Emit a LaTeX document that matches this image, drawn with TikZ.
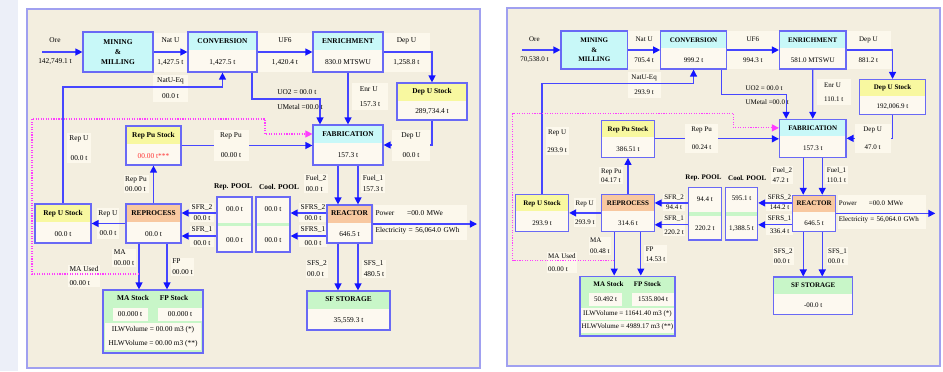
\documentclass[tikz,border=0pt]{standalone}
\usepackage{fontspec}
\setmainfont{Liberation Serif}
\usetikzlibrary{arrows.meta}

\definecolor{sidebg}{RGB}{236,239,248}
\definecolor{panelbg}{RGB}{243,238,223}
\definecolor{frameline}{RGB}{160,160,240}
\definecolor{boxline}{RGB}{105,105,245}
\definecolor{flowline}{RGB}{70,70,255}
\definecolor{tipblue}{RGB}{20,20,255}
\definecolor{cream}{RGB}{253,249,240}
\definecolor{lblbg}{RGB}{252,248,236}
\definecolor{hcyan}{RGB}{200,248,248}
\definecolor{hyellow}{RGB}{248,248,160}
\definecolor{hpeach}{RGB}{248,200,160}
\definecolor{hgreen}{RGB}{200,246,200}
\definecolor{dotpink}{RGB}{255,60,255}
\definecolor{valred}{RGB}{255,50,50}

% one fuel cycle panel, values come from \v... macros
\newcommand\fcpanel{%
% flow labels (lines go over them)
\node[lbl, minimum width=1.75cm, minimum height=1.95cm] (lNat) at (170.5,52) {Nat U\\[19pt]\vNatU};
\node[lbl, minimum width=1.75cm, minimum height=1.35cm] (lNatEq) at (170.5,88.5) {NatU-Eq\\[11pt]\vNatEq};
\node[lbl, minimum width=2.8cm, minimum height=1.95cm] (lUF) at (285,52) {UF6\\[19pt]\vUF};
\node[lbl, minimum width=2.35cm, minimum height=1.95cm] (lDep) at (406.5,52) {Dep U\\[19pt]\vDepU};
\node[lbll, minimum width=1.8cm, minimum height=1.35cm] (lEnrU) at (370,96.5) {Enr U\\[9pt]\vEnrU};
\node[lbl, minimum width=1.2cm, minimum height=1.5cm] (lRepUV) at (79,148) {Rep U\\[16pt]\vRepU};
\node[lbll, minimum width=1.25cm] (lRepPuV) at (136,184) {Rep Pu\\[1.5pt]\vRepPuV};
\node[lbl, minimum width=1cm, minimum height=1.55cm] (lRepUH) at (108,223) {Rep U\\[16pt]\vRepUH};
\node[lbll] (lFuelB) at (316,183.5) {Fuel\_2\\[3.6pt]\vFuelB};
\node[lbll] (lFuelA) at (373,183.5) {Fuel\_1\\[3.6pt]\vFuelA};
\node[lbll, text width=4.5cm, minimum height=1.75cm] (lPow) at (420.5,222.5)
  {\makebox[45pt][l]{Power}\vPower\\[12pt]Electricity = \vElec};
\node[lbl] (lSfrsB) at (313,212.5) {SFRS\_2\\[3.6pt]\vSfrsB};
\node[lbl] (lSfrsA) at (313,236) {SFRS\_1\\[8pt]\vSfrsA};
\node[lbl] (lSfrB) at (202,212.5) {SFR\_2\\[3.6pt]\vSfrB};
\node[lbl] (lSfrA) at (202,236.5) {SFR\_1\\[8pt]\vSfrA};
\node[lbll] (lMA) at (124,258) {MA\\[3.6pt]\vMA};
\node[lbll] (lFP) at (182.5,267) {FP\\[3.6pt]\vFP};
\node[lbll] (lMAused) at (84,276) {MA Used\\[8pt]\vMAused};
\node[lbll] (lSfsB) at (317,269) {SFS\_2\\[3.6pt]\vSfsB};
\node[lbll] (lSfsA) at (374,269) {SFS\_1\\[3.6pt]\vSfsA};
% units
\node[box, fill=hcyan, minimum width=3.5cm, minimum height=2cm] (mill) at (118,52)
  {\textbf{MINING}\\[2pt]\textbf{\&}\\[2pt]\textbf{MILLING}};
\node[box, head=hcyan, minimum width=3.45cm, minimum height=2cm] (conv) at (222.5,52) {\textbf{CONVERSION}\\[18pt]\vConv};
\node[box, head=hcyan, minimum width=3.5cm, minimum height=2cm] (enr) at (348,52) {\textbf{ENRICHMENT}\\[18pt]\vEnr};
\node[box, head=hyellow, minimum width=3.5cm, minimum height=1.85cm] (depst) at (432,101.5) {\textbf{Dep U Stock}\\[17pt]\vDepSt};
\node[box, head=hcyan, minimum width=3.5cm, minimum height=2cm] (fab) at (348,145) {\textbf{FABRICATION}\\[18pt]\vFab};
\node[box, head=hyellow, minimum width=2.75cm, minimum height=1.95cm] (puSt) at (153.5,145.5) {\textbf{Rep Pu Stock}\\[18pt]\vPuSt};
\node[box, head=hpeach, minimum width=2.25cm, minimum height=1.9cm] (reac) at (349.5,224) {\textbf{REACTOR}\\[18pt]\vReac};
\node[box, head=hpeach, minimum width=2.75cm, minimum height=1.95cm] (repr) at (153.5,223.5) {\textbf{REPROCESS}\\[18pt]\vRepr};
\node[box, head=hyellow, minimum width=2.8cm, minimum height=1.95cm] (uSt) at (63,223.5) {\textbf{Rep U Stock}\\[18pt]\vUSt};
\node[box, mid=hgreen, minimum width=1.75cm, minimum height=2.75cm] (rpool) at (234.5,224.5) {\vRpoolA\\[32pt]\vRpoolB};
\node[box, mid=hgreen, minimum width=1.7cm, minimum height=2.75cm] (cpool) at (273,224.5) {\vCoolA\\[32pt]\vCoolB};
\node[font=\fontsize{10.5}{12}\selectfont\bfseries] (tRpool) at (233,187) {Rep. POOL};
\node[font=\fontsize{10.5}{12}\selectfont\bfseries] (tCpool) at (279,187) {Cool. POOL};
\node[box, head=hgreen, minimum width=4.15cm, minimum height=1.95cm] (sfs) at (348.5,310.5) {\textbf{SF STORAGE}\\[18pt]\vSfs};
\node[box, fill=hgreen, minimum width=5cm, minimum height=3.15cm] (waste) at (153,321.5) {};
\node[font=\fontsize{10.5}{12}\selectfont\bfseries] (tMA) at (133,298) {MA Stock};
\node[font=\fontsize{10.5}{12}\selectfont\bfseries] (tFP) at (174,298) {FP Stock};
\node[cell, minimum width=1.75cm] (cMA) at (130,314.5) {\vMASt};
\node[cell, minimum width=2.2cm] (cFP) at (180,314.5) {\vFPSt};
\node[cell, minimum width=4.85cm] (cILW) at (153,330) {ILWVolume = \vILW\ m3 (*)};
\node[cell, minimum width=4.85cm] (cHLW) at (153,343.5) {HLWVolume = \vHLW\ m3 (**)};
% plain texts
\node[align=center] (lOre) at (55,51.5) {Ore\\[18pt]\vOre};
\node[align=left] (lUO) at (300,99.5) {UO2 = \vUOt\\[9pt]UMetal =\vUMet};
% connectors
\coordinate (oreIn) at (42,52);
\coordinate (uoA) at (252,99);
\coordinate (uoB) at (320,99);
\coordinate (ruT) at (63,87);
\coordinate (fB) at (338,0);
\coordinate (fA) at (358,0);
\coordinate (pwr) at (477,224);
\coordinate (srB) at (0,213);
\coordinate (srA) at (0,236);
\coordinate (maX) at (139,274);
\coordinate (fpX) at (167,0);
\coordinate (dA) at (32,274);
\coordinate (dB) at (265,119);
\draw[flow] (oreIn) -- (mill.west);
\draw[flow] (mill) -- (conv);
\draw[flow] (conv) -- (enr);
\draw[flow] (enr.east) -| (depst.north);
\draw[flow] (uoA |- conv.south) -- (uoA) -- (uoB) -- (uoB |- fab.north);
\draw[flow] (enr) -- (fab);
\draw[flow] (depst.south) |- (fab.east);
\draw[flow] (puSt.east) -- (puSt.east -| fab.west);
\draw[flow] (uSt.north) -- (ruT) -| (conv.south);
\draw[flow] (fB |- fab.south) -- (fB |- reac.north);
\draw[flow] (fA |- fab.south) -- (fA |- reac.north);
\draw[flow] (reac.east |- pwr) -- (pwr);
\draw[flow] (srB -| reac.west) -- (srB -| cpool.east);
\draw[flow] (srA -| reac.west) -- (srA -| cpool.east);
\draw[flow] (srB -| rpool.west) -- (srB -| repr.east);
\draw[flow] (srA -| rpool.west) -- (srA -| repr.east);
\draw[flow] (repr.west) -- (uSt.east);
\draw[flow] (repr.north) -- (puSt.south);
\draw[flow] (maX |- repr.south) -- (maX |- waste.north);
\draw[flow] (fpX |- repr.south) -- (fpX |- waste.north);
\draw[flow] (fB |- reac.south) -- (fB |- sfs.north);
\draw[flow] (fA |- reac.south) -- (fA |- sfs.north);
\draw[reuse] (maX) -- (dA) |- (dB) |- ([yshift=0.55cm]fab.west);
% labels over the lines
\node[lbl, minimum width=1.75cm, minimum height=1.55cm] (lRepPu) at (231,145) {Rep Pu\\[16pt]\vRepPu};
\node[lbl, minimum width=1.9cm, minimum height=1.55cm] (lDepB) at (411,145) {Dep U\\[16pt]\vDepUb};
}

\begin{document}
\begin{tikzpicture}[x=0.05cm, y=-0.05cm, font=\fontsize{10.5}{12}\selectfont,
  frame/.style={draw=frameline, line width=1.8pt, fill=panelbg},
  box/.style={draw=boxline, line width=1.7pt, fill=cream, inner sep=0pt, align=center},
  head/.style={path picture={\fill[#1] (path picture bounding box.north west)
    rectangle ([yshift=-0.875cm]path picture bounding box.north east);}},
  mid/.style={path picture={\fill[#1] ([yshift=0.09cm]path picture bounding box.west)
    rectangle ([yshift=-0.09cm]path picture bounding box.east);}},
  cell/.style={fill=cream, inner sep=0pt, minimum height=0.66cm},
  lbl/.style={fill=lblbg, inner sep=2pt, align=center},
  lbll/.style={fill=lblbg, inner sep=2pt, align=left},
  flow/.style={draw=flowline, line width=1.8pt, -{Triangle[length=10pt,width=10pt,color=tipblue]}},
  reuse/.style={draw=dotpink, line width=1.6pt, dotted, -{Triangle[length=10pt,width=10pt,color=dotpink]}}]
\useasboundingbox (0,0) rectangle (943,371);
\fill[white] (0,0) rectangle (943,371);
\fill[sidebg] (0,0) rectangle (18,371);

% left panel
\draw[frame] (27,9) rectangle (480,368);
\begin{scope}
\def\vOre{142,749.1 t}\def\vNatU{1,427.5 t}\def\vConv{1,427.5 t}\def\vNatEq{00.0 t}
\def\vUF{1,420.4 t}\def\vEnr{830.0 MTSWU}\def\vDepU{1,258.8 t}\def\vDepSt{289,734.4 t}
\def\vUOt{00.0 t}\def\vUMet{00.0 t}\def\vEnrU{157.3 t}\def\vFab{157.3 t}
\def\vRepPu{00.00 t}\def\vDepUb{00.0 t}\def\vRepU{00.0 t}\def\vPuSt{\textcolor{valred}{00.00 t***}}
\def\vRepPuV{00.00 t}\def\vFuelB{00.0 t}\def\vFuelA{157.3 t}\def\vReac{646.5 t}
\def\vPower{=00.0 MWe}\def\vElec{56,064.0 GWh}\def\vSfrsB{00.0 t}\def\vSfrsA{00.0 t}
\def\vCoolA{00.0 t}\def\vCoolB{00.0 t}\def\vRpoolA{00.0 t}\def\vRpoolB{00.0 t}
\def\vSfrB{00.0 t}\def\vSfrA{00.0 t}\def\vRepr{00.0 t}\def\vUSt{00.0 t}\def\vRepUH{00.0 t}
\def\vMA{00.00 t}\def\vFP{00.00 t}\def\vMAused{00.00 t}\def\vMASt{00.000 t}\def\vFPSt{00.000 t}
\def\vILW{00.00}\def\vHLW{00.00}\def\vSfsB{00.0 t}\def\vSfsA{480.5 t}\def\vSfs{35,559.3 t}
\fcpanel
\end{scope}

% right panel
\draw[frame] (507,8) rectangle (940,366);
\begin{scope}[shift={(482.15,0.6)}, scale=0.95, transform shape]
\def\vOre{70,538.0 t}\def\vNatU{705.4 t}\def\vConv{999.2 t}\def\vNatEq{293.9 t}
\def\vUF{994.3 t}\def\vEnr{581.0 MTSWU}\def\vDepU{881.2 t}\def\vDepSt{192,006.9 t}
\def\vUOt{00.0 t}\def\vUMet{00.0 t}\def\vEnrU{110.1 t}\def\vFab{157.3 t}
\def\vRepPu{00.24 t}\def\vDepUb{47.0 t}\def\vRepU{293.9 t}\def\vPuSt{386.51 t}
\def\vRepPuV{04.17 t}\def\vFuelB{47.2 t}\def\vFuelA{110.1 t}\def\vReac{646.5 t}
\def\vPower{=00.0 MWe}\def\vElec{56,064.0 GWh}\def\vSfrsB{144.2 t}\def\vSfrsA{336.4 t}
\def\vCoolA{595.1 t}\def\vCoolB{1,388.5 t}\def\vRpoolA{94.4 t}\def\vRpoolB{220.2 t}
\def\vSfrB{94.4 t}\def\vSfrA{220.2 t}\def\vRepr{314.6 t}\def\vUSt{293.9 t}\def\vRepUH{293.9 t}
\def\vMA{00.48 t}\def\vFP{14.53 t}\def\vMAused{00.00 t}\def\vMASt{50.492 t}\def\vFPSt{1535.804 t}
\def\vILW{11641.40}\def\vHLW{4989.17}\def\vSfsB{00.0 t}\def\vSfsA{00.0 t}\def\vSfs{-00.0 t}
\fcpanel
\end{scope}
\end{tikzpicture}
\end{document}
